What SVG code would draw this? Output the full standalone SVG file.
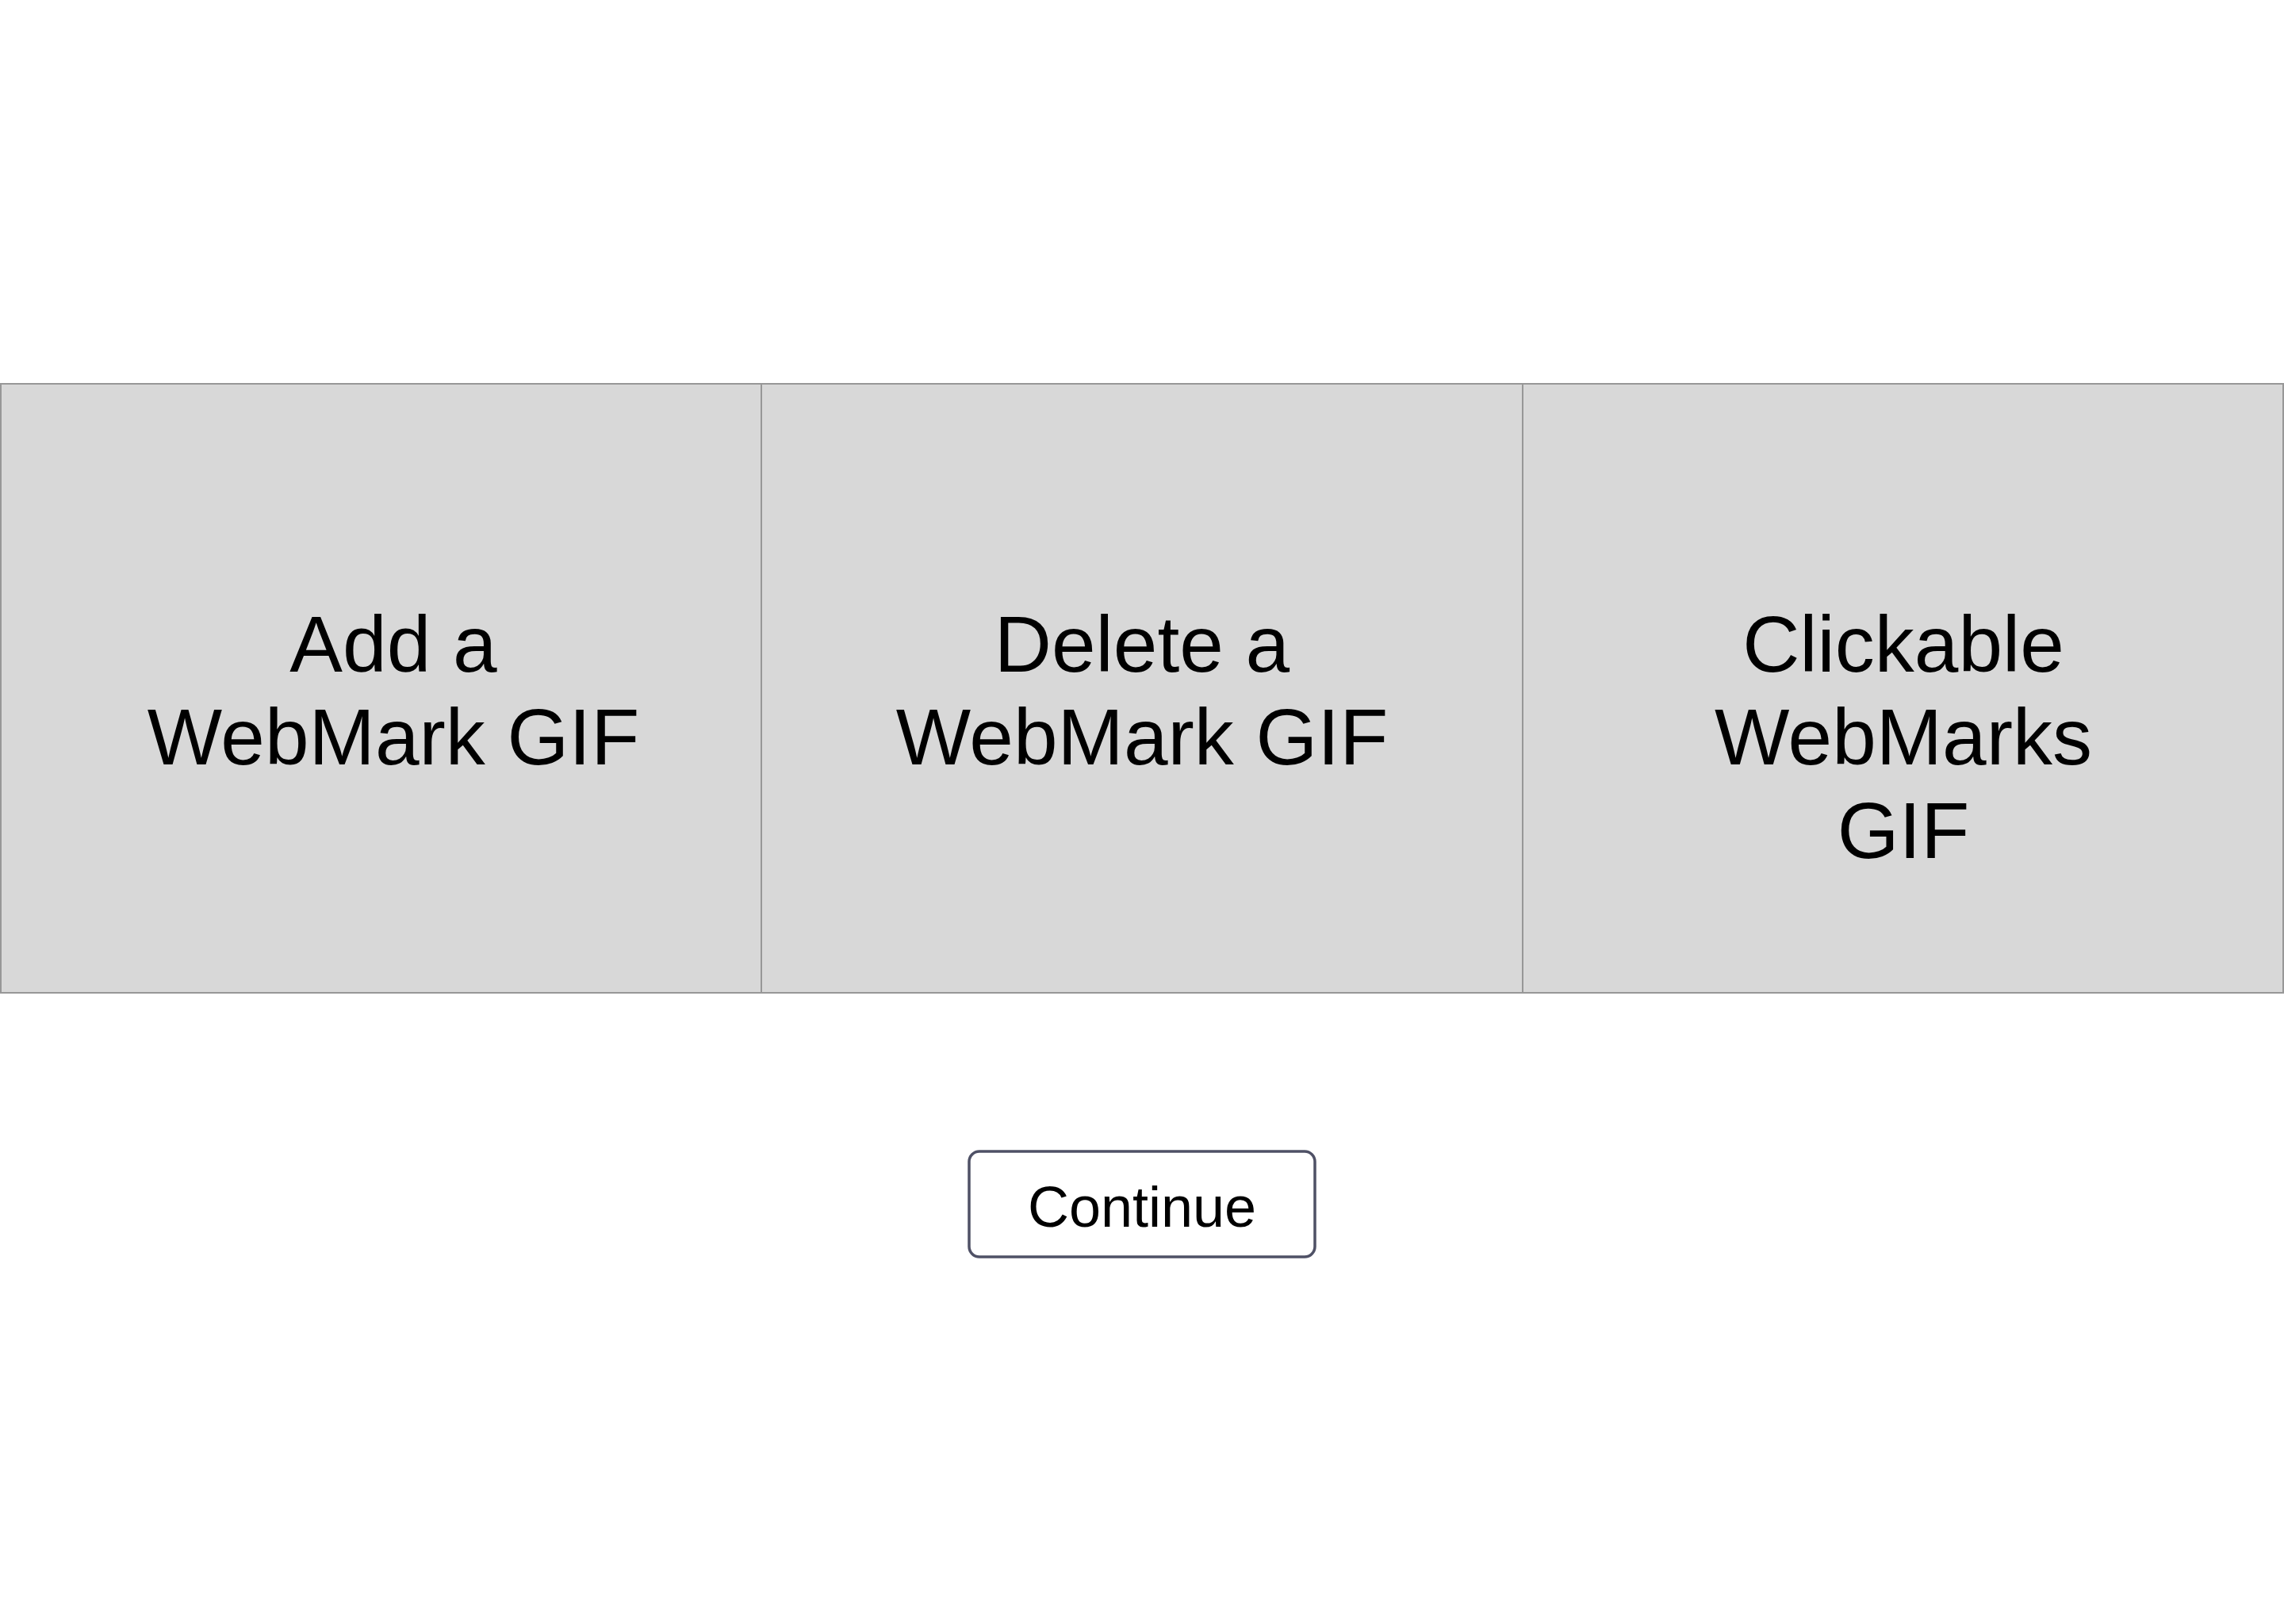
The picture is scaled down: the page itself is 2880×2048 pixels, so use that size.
<svg xmlns="http://www.w3.org/2000/svg" width="2880" height="2048" viewBox="0 0 2880 2048">
  <style>
    .panel { fill: #d8d8d8; stroke: #979797; stroke-width: 2; }
    .label { font-family: "Liberation Sans", Arial, Helvetica, sans-serif; font-size: 100px; fill: #000000; text-anchor: middle; }
    .btn { fill: #ffffff; stroke: #4f5166; stroke-width: 3.5; }
    .btntext { font-family: "Liberation Sans", Arial, Helvetica, sans-serif; font-size: 72px; fill: #000000; text-anchor: middle; }
  </style>
  <rect x="0" y="0" width="2880" height="2048" fill="#ffffff"/>
  <g id="node-add">
    <rect class="panel" x="1" y="484" width="959" height="768"/>
    <text class="label" x="496" y="847">Add a</text>
    <text class="label" x="496" y="964">WebMark GIF</text>
  </g>
  <g id="node-delete">
    <rect class="panel" x="960" y="484" width="960" height="768"/>
    <text class="label" x="1440" y="847">Delete a</text>
    <text class="label" x="1440" y="964">WebMark GIF</text>
  </g>
  <g id="node-clickable">
    <rect class="panel" x="1920" y="484" width="959" height="768"/>
    <text class="label" x="2400" y="847">Clickable</text>
    <text class="label" x="2400" y="964">WebMarks</text>
    <text class="label" x="2400" y="1082">GIF</text>
  </g>
  <g id="node-continue">
    <rect class="btn" x="1222" y="1452" width="436" height="133" rx="13" ry="13"/>
    <text class="btntext" x="1440" y="1547">Continue</text>
  </g>
  <g id="connectors"></g>
</svg>
